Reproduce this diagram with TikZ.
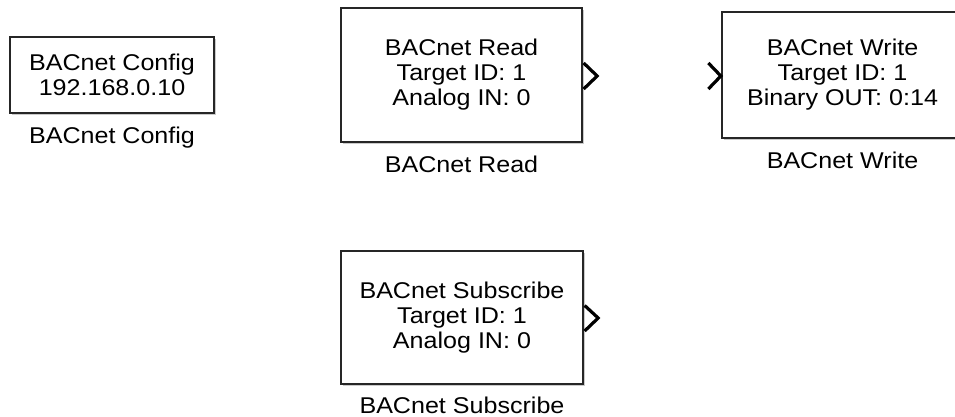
\documentclass[tikz,border=0pt]{standalone}
\usepackage{fontspec}
\setmainfont{Liberation Sans}
\newfontfamily\blkfont[FakeStretch=1.1]{Liberation Sans}
\usetikzlibrary{calc,shadows}
\begin{document}
\begin{tikzpicture}[x=1pt,y=-1pt,
  blk/.style={draw=black!85, line width=1.3pt, fill=white, inner sep=0pt, align=center,
    font=\blkfont\fontsize{22.8}{25}\selectfont,
    drop shadow={shadow xshift=1.6pt, shadow yshift=-1.6pt, opacity=0.35, fill=black!60}},
  lbl/.style={anchor=base, inner sep=0pt, font=\blkfont\fontsize{22.8}{25}\selectfont},
  port/.style={draw=black, line width=3.2pt, line join=miter, line cap=butt}]
\useasboundingbox (0,0) rectangle (955,417);
\clip (0,0) rectangle (955,417);
\node[blk, minimum width=204pt, minimum height=76pt] (cfg) at (112,75) {BACnet Config\\192.168.0.10};
\node[lbl] (cfglbl) at (112,143) {BACnet Config};
\node[blk, minimum width=241pt, minimum height=134pt] (read) at (461.5,75) {BACnet Read\\Target ID: 1\\Analog IN: 0};
\node[lbl] (readlbl) at (461.5,172) {BACnet Read};
\node[blk, minimum width=241pt, minimum height=126pt] (write) at (842.5,75) {BACnet Write\\Target ID: 1\\Binary OUT: 0:14};
\node[lbl] (writelbl) at (842.5,168) {BACnet Write};
\node[blk, minimum width=242pt, minimum height=133pt] (sub) at (462,317.5) {BACnet Subscribe\\Target ID: 1\\Analog IN: 0};
\node[lbl] (sublbl) at (462,413) {BACnet Subscribe};
\draw[port] ($(read.east)+(1,-12)$) -- ($(read.east)+(14.5,1)$) -- ($(read.east)+(1,14)$);
\draw[port] ($(write.west)+(-13,-12)$) -- ($(write.west)+(-0.5,1)$) -- ($(write.west)+(-13,14)$);
\draw[port] ($(sub.east)+(1,-12)$) -- ($(sub.east)+(14.5,0.5)$) -- ($(sub.east)+(1,13.5)$);
\end{tikzpicture}
\end{document}
